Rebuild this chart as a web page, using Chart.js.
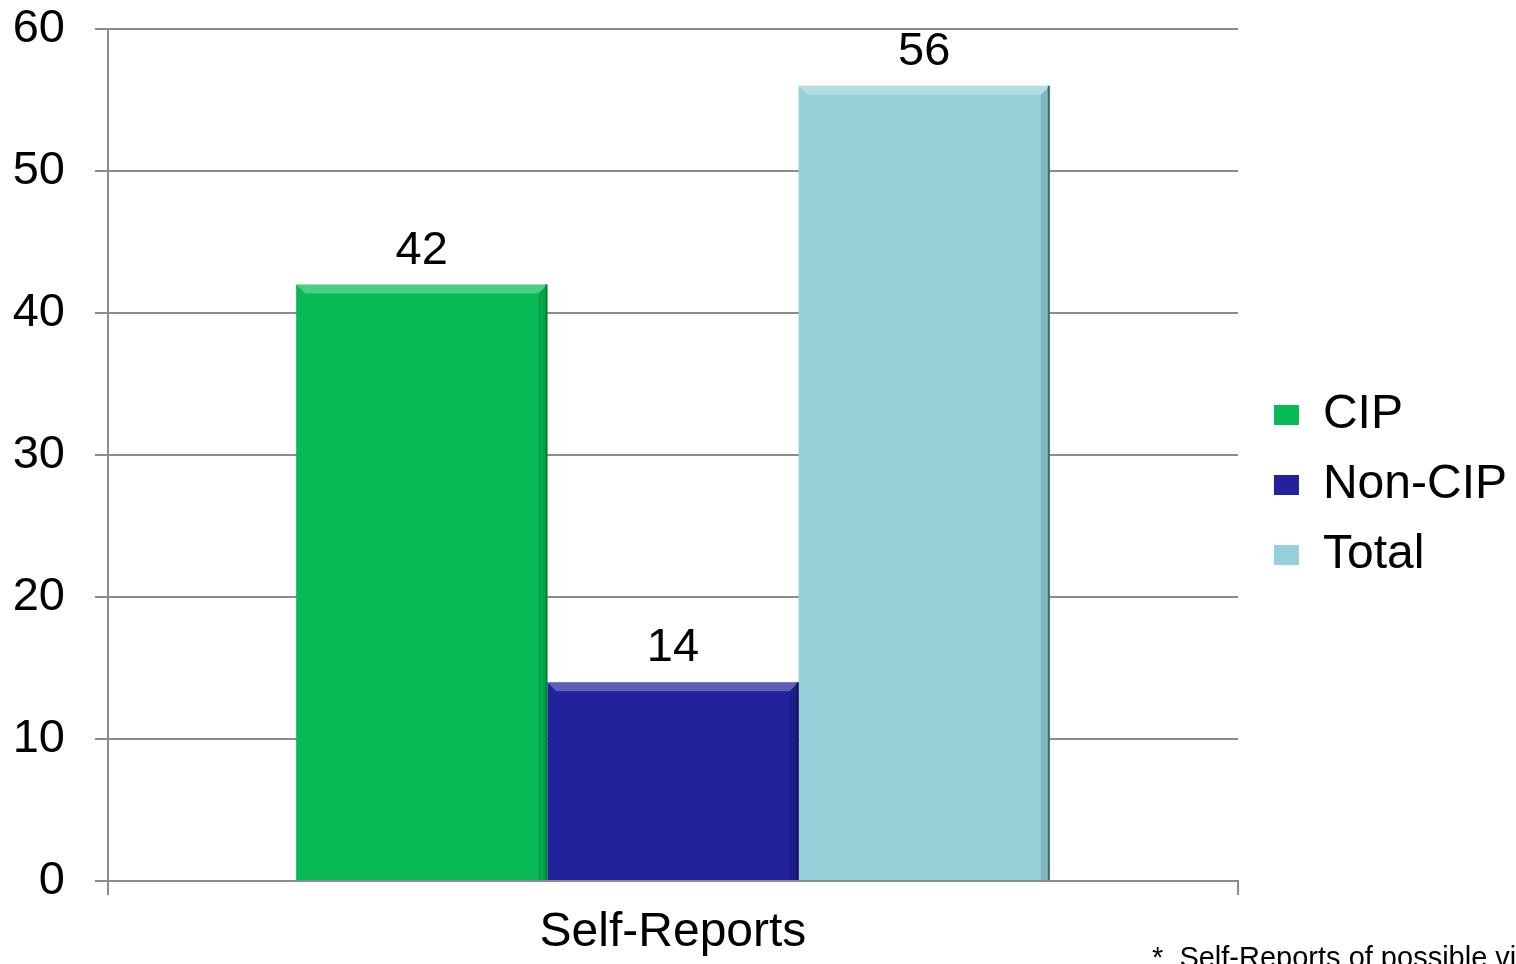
<!DOCTYPE html>
<html>
<head>
<meta charset="utf-8">
<script src="https://cdn.jsdelivr.net/npm/chart.js@4.4.1/dist/chart.umd.min.js"></script>
<style>
    html, body { margin: 0; padding: 0; background: #fff; overflow: hidden; }
    #wrap { position: relative; width: 1516px; height: 964px; }
    #chart { display: block; }
    #note {
        position: absolute; left: 1152px; top: 941px;
        font-family: "Liberation Sans", Arial, sans-serif; font-size: 29px;
        white-space: nowrap; color: #000;
    }
</style>
</head>
<body>
<div id="wrap">
    <canvas id="chart" width="1516" height="964"></canvas>
    <div id="note">*&nbsp; Self-Reports of possible violations</div>
</div>
<script>
// Chart data
const categories = ['Self-Reports'];
const seriesNames = ['CIP', 'Non-CIP', 'Total'];
const cipValues = [42];
const nonCipValues = [14];
const totalValues = [56];
const yTicks = [0, 10, 20, 30, 40, 50, 60];

const FONT = '"Liberation Sans", Arial, sans-serif';
const colors = ['#07BA55', '#22229C', '#96D1D9'];
const edges = ['#04813a', '#13135e', '#3f6a70'];

// Value labels above each bar
const valueLabels = {
    id: 'valueLabels',
    afterDatasetsDraw(chart) {
        const ctx = chart.ctx;
        ctx.save();
        ctx.font = '47px ' + FONT;
        ctx.fillStyle = '#000';
        ctx.textAlign = 'center';
        ctx.textBaseline = 'alphabetic';
        chart.data.datasets.forEach((ds, i) => {
            chart.getDatasetMeta(i).data.forEach((bar, j) => {
                ctx.fillText(String(ds.data[j]), bar.x, bar.y - 21);
            });
        });
        ctx.restore();
    }
};

// Bevel look: light top band, dark right edge
const bevel = {
    id: 'bevel',
    afterDatasetsDraw(chart) {
        const ctx = chart.ctx;
        ctx.save();
        chart.data.datasets.forEach((ds, i) => {
            chart.getDatasetMeta(i).data.forEach(bar => {
                const l = bar.x - bar.width / 2, r = bar.x + bar.width / 2;
                const t = bar.y, b = bar.base, d = 9;
                ctx.fillStyle = 'rgba(255,255,255,0.28)';
                ctx.beginPath();
                ctx.moveTo(l, t); ctx.lineTo(r, t); ctx.lineTo(r - d, t + d); ctx.lineTo(l + d, t + d);
                ctx.closePath(); ctx.fill();
                ctx.fillStyle = 'rgba(0,0,0,0.12)';
                ctx.beginPath();
                ctx.moveTo(r, t); ctx.lineTo(r, b); ctx.lineTo(r - d, b); ctx.lineTo(r - d, t + d);
                ctx.closePath(); ctx.fill();
                ctx.strokeStyle = edges[i];
                ctx.lineWidth = 2;
                ctx.beginPath();
                ctx.moveTo(r - 1, t); ctx.lineTo(r - 1, b);
                ctx.stroke();
            });
        });
        ctx.restore();
    }
};

// Nudge the legend a bit further from the plot area
const legendShift = {
    id: 'legendShift',
    afterLayout(chart) {
        chart.legend.left += 14;
        chart.legend.right += 14;
        chart.legend.top += 3;
        chart.legend.bottom += 3;
    }
};

new Chart(document.getElementById('chart'), {
    type: 'bar',
    data: {
        labels: categories,
        datasets: [
            { label: seriesNames[0], data: cipValues, backgroundColor: colors[0], borderColor: edges[0], borderWidth: 0 },
            { label: seriesNames[1], data: nonCipValues, backgroundColor: colors[1], borderColor: edges[1], borderWidth: 0 },
            { label: seriesNames[2], data: totalValues, backgroundColor: colors[2], borderColor: edges[2], borderWidth: 0 }
        ]
    },
    options: {
        responsive: false,
        animation: false,
        devicePixelRatio: 1,
        layout: { padding: { left: 0, top: 0, right: 13, bottom: 0 } },
        datasets: { bar: { barPercentage: 1, categoryPercentage: 0.667 } },
        scales: {
            x: {
                afterFit(scale) { scale.height = 83; },
                grid: { display: true, drawOnChartArea: false, offset: true, tickLength: 14, color: '#8c8c8c', lineWidth: 2 },
                border: { color: '#8c8c8c', width: 2 },
                ticks: { color: '#000', font: { family: FONT, size: 48 }, padding: 9 }
            },
            y: {
                min: 0,
                max: 60,
                afterFit(scale) {
                    scale.width = 108;
                    scale.paddingTop = 29;
                    scale.paddingBottom = 0;
                },
                afterBuildTicks(axis) { axis.ticks = yTicks.map(v => ({ value: v })); },
                grid: { color: '#8c8c8c', lineWidth: 2, tickLength: 13 },
                border: { color: '#8c8c8c', width: 2 },
                ticks: { color: '#000', font: { family: FONT, size: 47 }, padding: 30 }
            }
        },
        plugins: {
            legend: {
                position: 'right',
                labels: {
                    color: '#000',
                    font: { family: FONT, size: 48 },
                    boxWidth: 25,
                    boxHeight: 20,
                    padding: 22
                }
            },
            tooltip: { enabled: false }
        }
    },
    plugins: [valueLabels, bevel, legendShift]
});
</script>
</body>
</html>
